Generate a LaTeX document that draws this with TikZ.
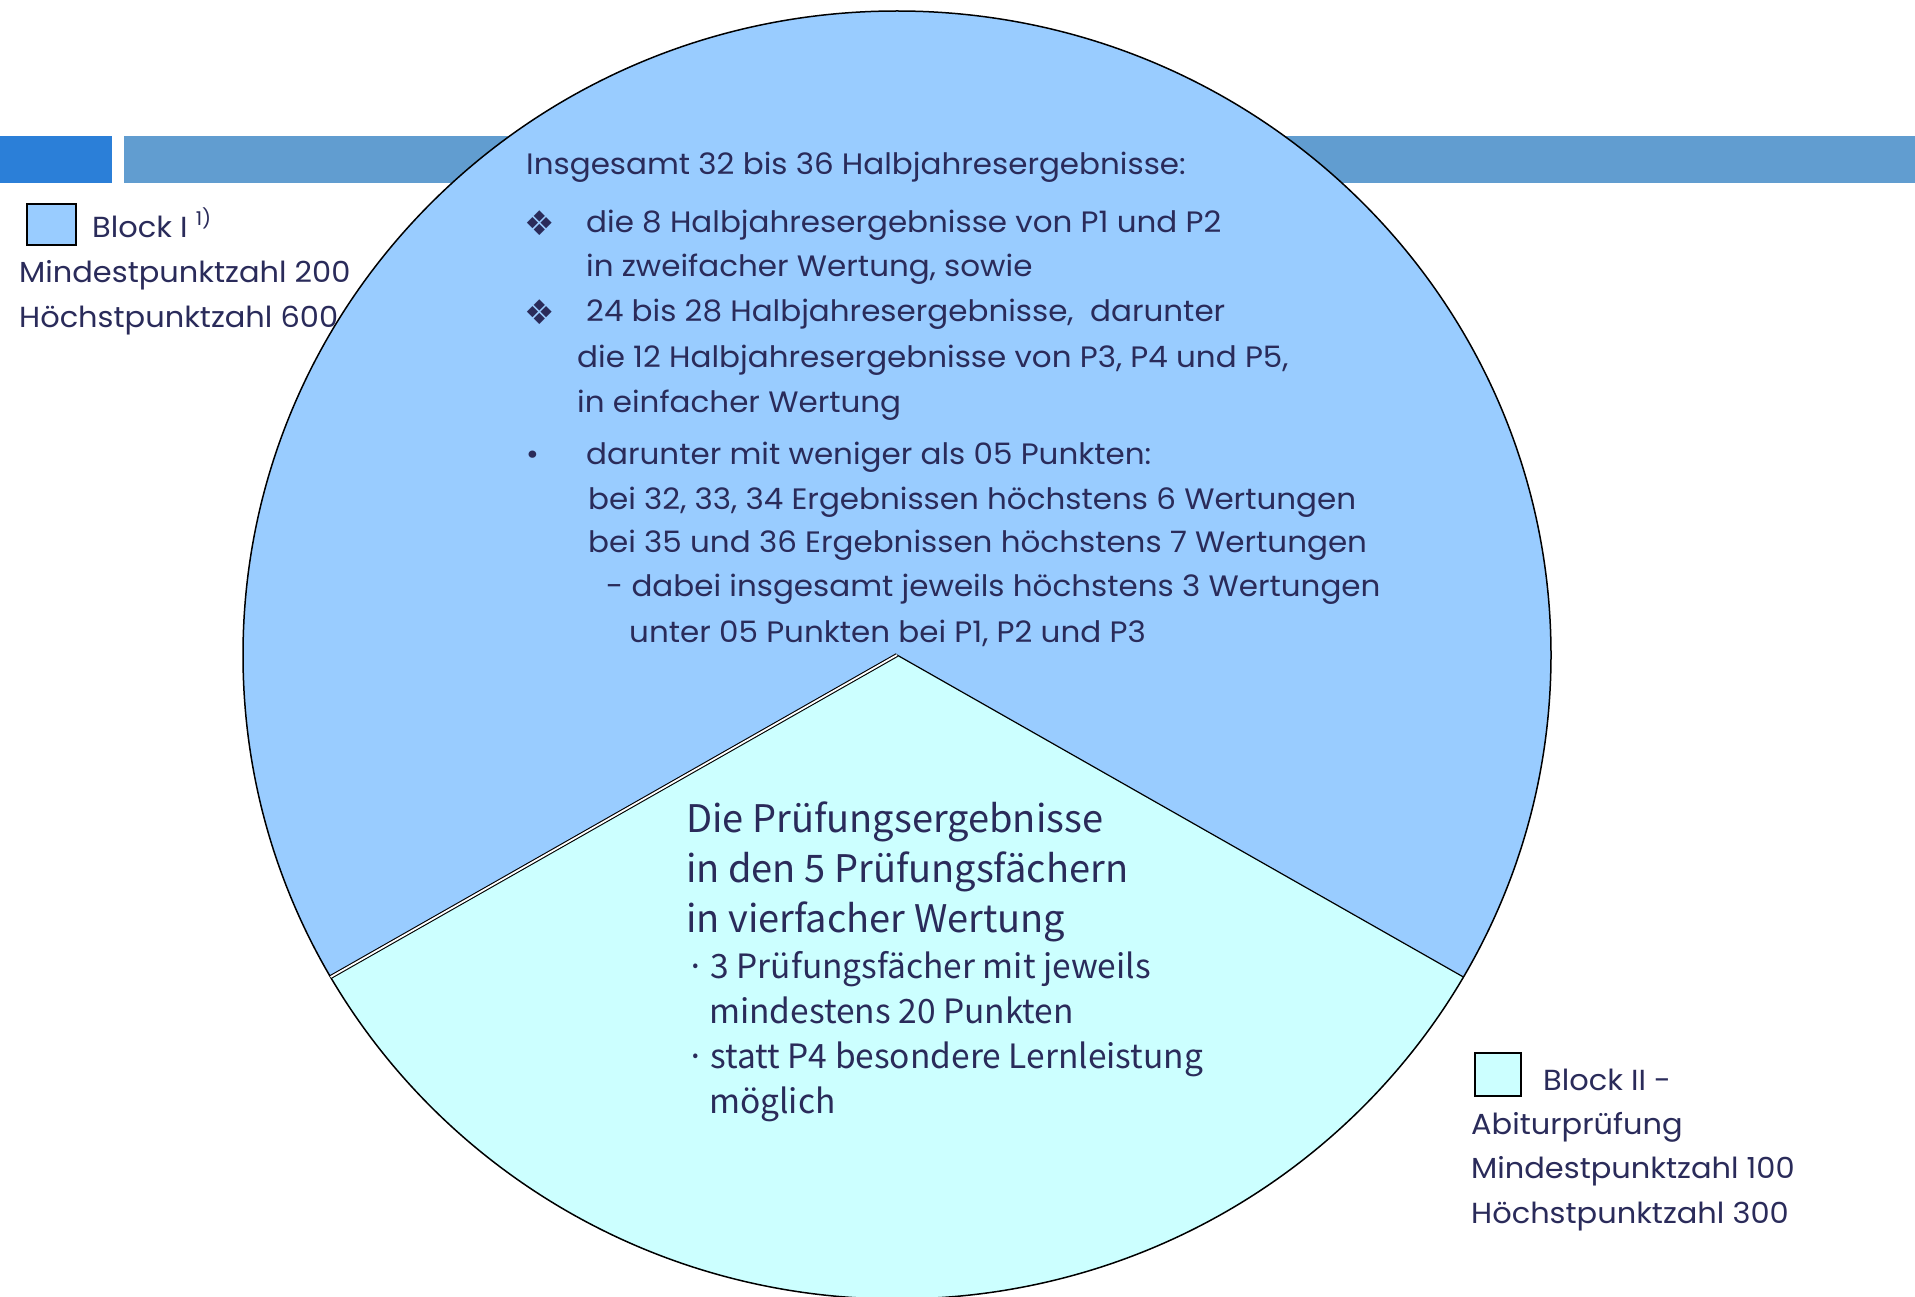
\documentclass[tikz,border=0pt]{standalone}
\usepackage{fontspec}
\setmainfont{Poppins}
\newfontfamily\widefont[FakeStretch=1.05]{Poppins}
\newfontfamily\symfont{DejaVu Sans}
\newfontfamily\gothfont{Noto Sans CJK JP}
\usetikzlibrary{positioning}

\definecolor{blockone}{HTML}{99CCFF}
\definecolor{blocktwo}{HTML}{CCFFFF}
\definecolor{bardark}{HTML}{2B7FD8}
\definecolor{barlight}{HTML}{619DD0}
\definecolor{ink}{HTML}{2A2B5A}

\begin{document}
\begin{tikzpicture}[x=1pt, y=-1pt,
  every node/.style={inner sep=0pt, text=ink},
  legend/.style={font=\widefont\fontsize{29}{45}\selectfont, anchor=base west},
  body/.style={font=\widefont\fontsize{29.5}{45}\selectfont, anchor=base west},
  head/.style={font=\gothfont\fontsize{38}{50}\selectfont, anchor=base west},
  sub/.style={font=\gothfont\fontsize{33.5}{45}\selectfont, anchor=base west},
  keybox/.style={draw=black, line width=2pt, anchor=north west},
  diam/.style={font=\symfont\fontsize{34}{34}\selectfont, anchor=base west}]
  \useasboundingbox (0,0) rectangle (1915,1297);

  % title bar behind the pie
  \fill[bardark] (0,136) rectangle (112,183);
  \fill[barlight] (124,136) rectangle (1915,183);

  % pie
  \coordinate (c) at (897,655);
  \path (c) ++(150:654 and 644) coordinate (lo);
  \path (c) ++(30:654 and 644) coordinate (ro);
  \fill[blockone] (c) ellipse [x radius=654, y radius=644];
  \fill[blocktwo] (c) -- (lo) arc [start angle=150, end angle=30, x radius=654, y radius=644] -- cycle;
  \draw[line width=1.5pt] (c) ellipse [x radius=654, y radius=644];
  \draw[line width=1.2pt] (c) -- (ro);
  \draw[line width=1.1pt, double=white, double distance=1.8pt] (c) -- (lo);

  % Block I legend
  \node[keybox, fill=blockone, minimum width=49pt, minimum height=41pt] (keyone) at (26,203) {};
  \node[legend] (blockI) at (92,238) {Block I {\fontsize{19}{19}\selectfont\raisebox{12pt}{1)}}};
  \node[legend] (minI) at (19,283) {Mindestpunktzahl 200};
  \node[legend] (maxI) at (19,328) {Höchstpunktzahl 600};

  % Block II legend
  \node[keybox, fill=blocktwo, minimum width=46pt, minimum height=43pt] (keytwo) at (1474,1052) {};
  \node[legend] (blockII) at (1543,1090) {Block II -};
  \node[legend] (abi) at (1471,1134) {Abiturprüfung};
  \node[legend] (minII) at (1471,1178) {Mindestpunktzahl 100};
  \node[legend] (maxII) at (1471,1223) {Höchstpunktzahl 300};

  % Block I text
  \node[body] (total) at (526,175) {Insgesamt 32 bis 36 Halbjahresergebnisse:};
  \node[diam] (d1) at (524,236) {❖};
  \node[body] (p12a) at (586,233) {die 8 Halbjahresergebnisse von P1 und P2};
  \node[body] (p12b) at (586,277) {in zweifacher Wertung, sowie};
  \node[diam] (d2) at (524,325) {❖};
  \node[body] (restA) at (586,322) {24 bis 28 Halbjahresergebnisse,\ \ darunter};
  \node[body] (restB) at (577,367) {die 12 Halbjahresergebnisse von P3, P4 und P5,};
  \node[body] (restC) at (577,412) {in einfacher Wertung};
  \node[body] (dot) at (526,464) {•};
  \node[body] (lowA) at (586,464) {darunter mit weniger als 05 Punkten:};
  \node[body] (lowB) at (588,509) {bei 32, 33, 34 Ergebnissen höchstens 6 Wertungen};
  \node[body] (lowC) at (588,552) {bei 35 und 36 Ergebnissen höchstens 7 Wertungen};
  \node[body] (lowD) at (606,596) {- dabei insgesamt jeweils höchstens 3 Wertungen};
  \node[body] (lowE) at (629,642) {unter 05 Punkten bei P1, P2 und P3};

  % Block II text
  \node[head] (exA) at (686,832) {Die Prüfungsergebnisse};
  \node[head] (exB) at (686,882) {in den 5 Prüfungsfächern};
  \node[head] (exC) at (686,932) {in vierfacher Wertung};
  \node[sub] (exD) at (686,978) {·\,3 Prüfungsfächer mit jeweils};
  \node[sub] (exE) at (709,1023) {mindestens 20 Punkten};
  \node[sub] (exF) at (686,1068) {·\,statt P4 besondere Lernleistung};
  \node[sub] (exG) at (709,1113) {möglich};
\end{tikzpicture}
\end{document}
